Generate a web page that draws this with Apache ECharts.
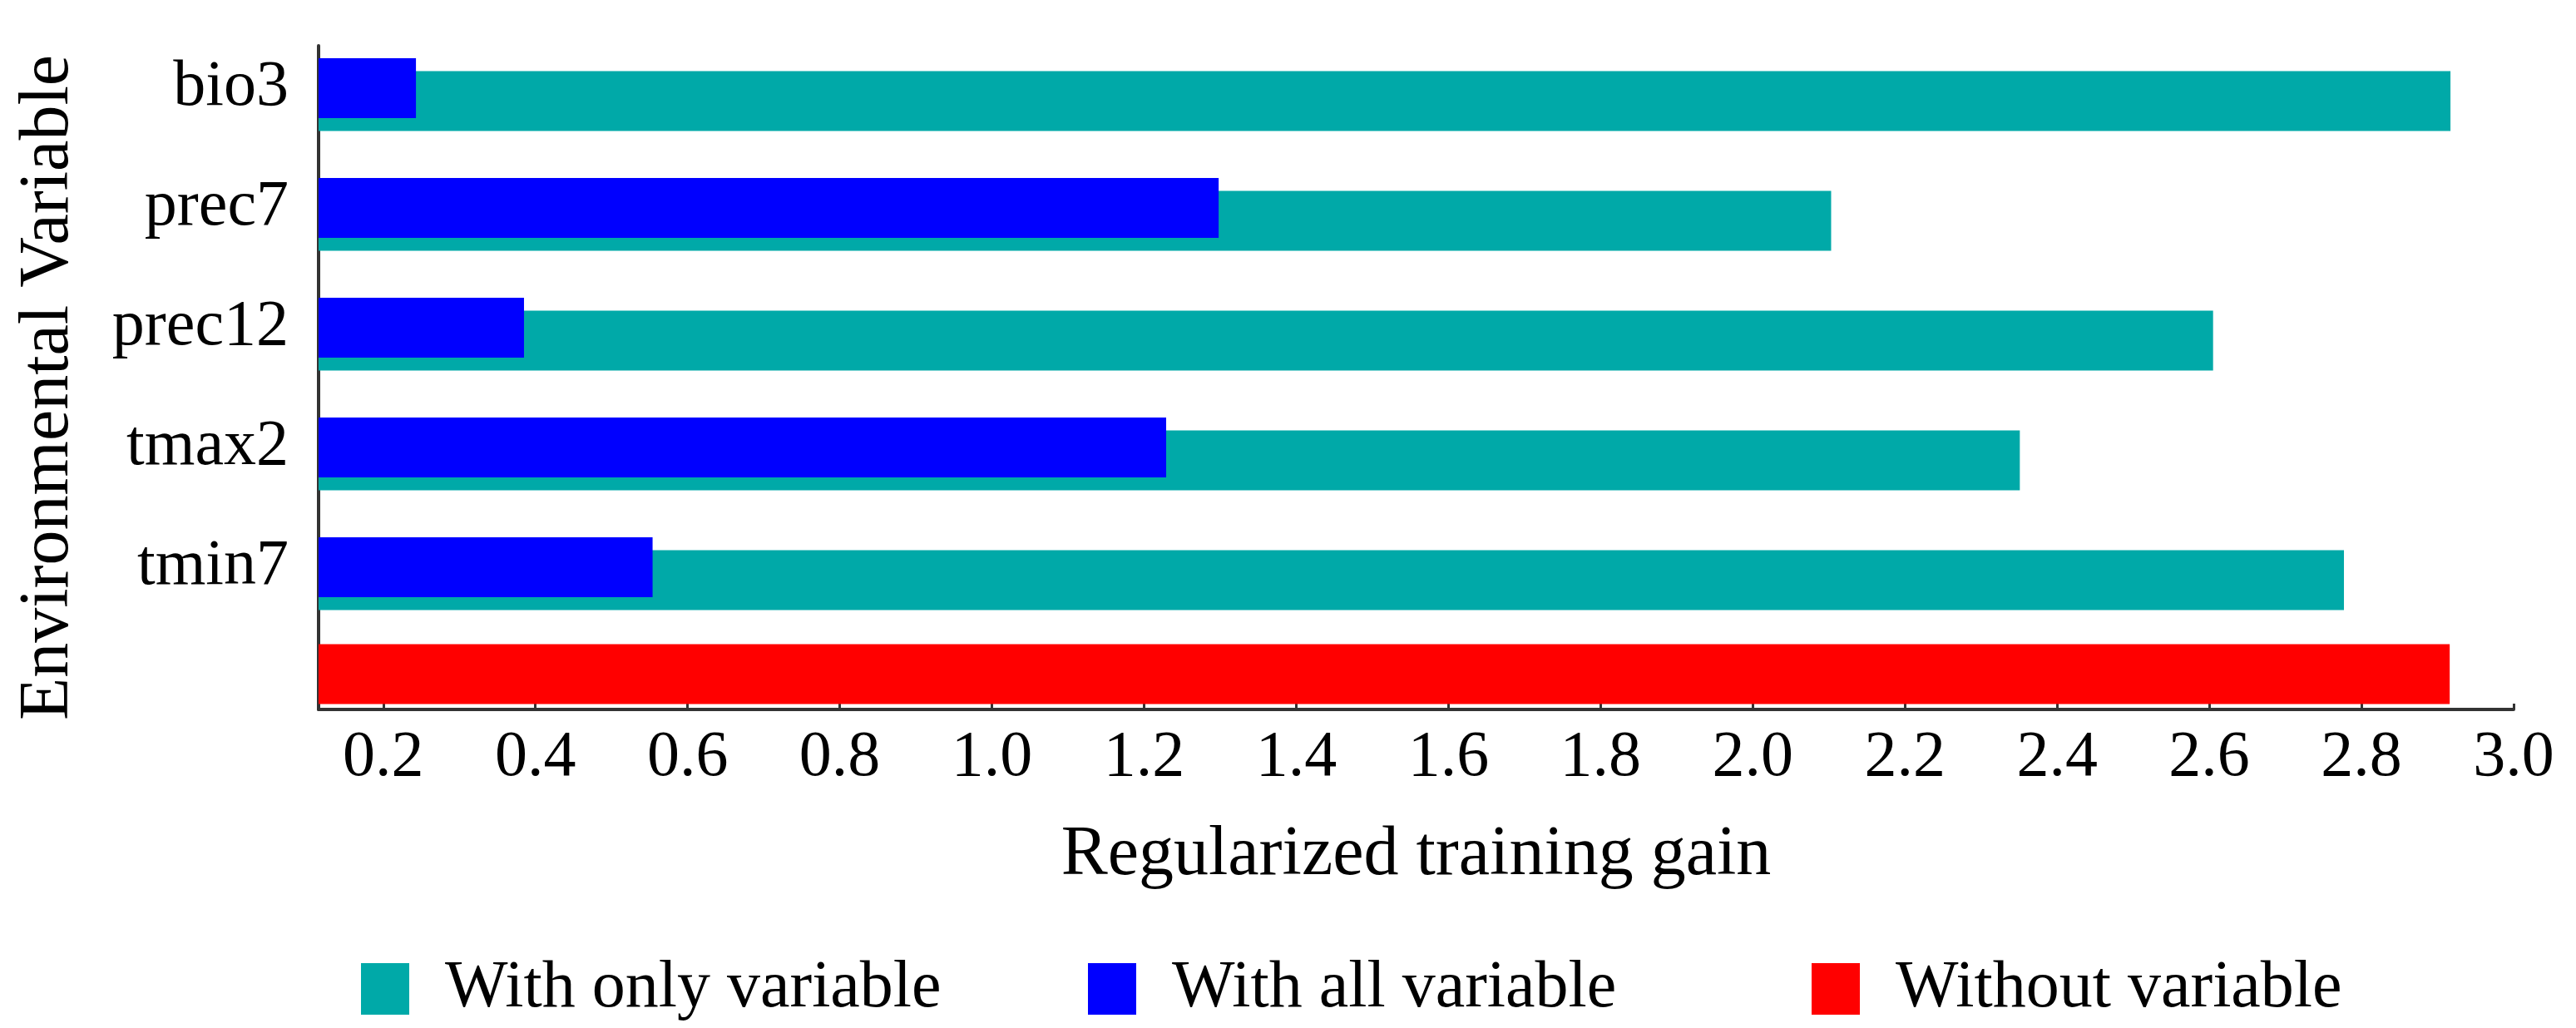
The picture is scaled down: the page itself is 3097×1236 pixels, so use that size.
<!DOCTYPE html>
<html>
<head>
<meta charset="utf-8">
<script src="https://cdn.jsdelivr.net/npm/echarts@6/dist/echarts.min.js"></script>
<style>
html,body{margin:0;padding:0;background:#fff;}
#chart{width:3097px;height:1236px;}
</style>
</head>
<body>
<div id="chart"></div>
<script>
// Categories from bottom to top (empty category holds the "Without variable" bar)
var categories = ['', 'tmin7', 'tmax2', 'prec12', 'prec7', 'bio3'];
var withOnly = ['-', 2.777, 2.351, 2.605, 2.103, 2.917];
var withAll = ['-', 0.554, 1.229, 0.385, 1.298, 0.243];
var withoutVar = [2.916, '-', '-', '-', '-', '-'];
var xTicks = [0.2, 0.4, 0.6, 0.8, 1.0, 1.2, 1.4, 1.6, 1.8, 2.0, 2.2, 2.4, 2.6, 2.8, 3.0];
var seriesNames = ['With only variable', 'With all variable', 'Without variable'];

var FONT = 'Liberation Serif';
var TEAL = '#00A9A8', BLUE = '#0000FF', RED = '#FF0000';

var chart = echarts.init(document.getElementById('chart'));
var legendBase = {
  orient: 'horizontal', top: 1149, padding: 0,
  itemWidth: 58, itemHeight: 62, itemGap: 40, icon: 'rect',
  textStyle: {fontFamily: FONT, fontSize: 80, color: '#000', padding: [0, 0, 0, 38]}
};
chart.setOption({
  animation: false,
  backgroundColor: '#fff',
  legend: [
    Object.assign({}, legendBase, {left: 434, data: [seriesNames[0]]}),
    Object.assign({}, legendBase, {left: 1308, data: [seriesNames[1]]}),
    Object.assign({}, legendBase, {left: 2178, data: [seriesNames[2]]})
  ],
  grid: [
    {left: 383, right: 75, top: 34, bottom: 338, containLabel: false},
    {left: 383, right: 75, top: 55, bottom: 383, containLabel: false}
  ],
  xAxis: [
    {
      type: 'value', gridIndex: 0, min: 0.115, max: 3.0,
      offset: -45,
      name: 'Regularized training gain', nameLocation: 'middle', nameGap: 134,
      nameTextStyle: {fontFamily: FONT, fontSize: 84, color: '#000'},
      axisLine: {show: true, lineStyle: {color: '#333', width: 4}},
      axisTick: {show: true, inside: true, length: 7, lineStyle: {color: '#333', width: 3}, customValues: xTicks},
      axisLabel: {show: true, fontFamily: FONT, fontSize: 78, color: '#000', margin: 20,
        customValues: xTicks, formatter: function (v) { return v.toFixed(1); }},
      splitLine: {show: false}
    },
    {
      type: 'value', gridIndex: 1, min: 0, max: 1, show: false
    }
  ],
  yAxis: [
    {
      type: 'category', gridIndex: 0, data: categories,
      name: 'Environmental Variable', nameLocation: 'middle', nameGap: 282,
      nameTextStyle: {fontFamily: FONT, fontSize: 84, color: '#000'},
      axisLine: {show: false},
      axisTick: {show: false},
      axisLabel: {fontFamily: FONT, fontSize: 78, color: '#000', margin: 36},
      splitLine: {show: false}
    },
    {
      type: 'value', gridIndex: 1, min: 0, max: 1,
      axisLine: {show: true, lineStyle: {color: '#333', width: 4}},
      axisTick: {show: false}, axisLabel: {show: false}, splitLine: {show: false}
    }
  ],
  series: [
    {
      name: seriesNames[2], type: 'bar', xAxisIndex: 0, yAxisIndex: 0,
      data: withoutVar, barWidth: 72, itemStyle: {color: RED}
    },
    {
      name: seriesNames[1], type: 'bar', xAxisIndex: 0, yAxisIndex: 0, z: 4,
      data: withAll, barWidth: 72, itemStyle: {color: BLUE}
    },
    {
      name: seriesNames[0], type: 'bar', xAxisIndex: 0, yAxisIndex: 0, z: 3,
      data: withOnly, barWidth: 72, barGap: '-78.5%', itemStyle: {color: TEAL}
    }
  ]
});
</script>
</body>
</html>
